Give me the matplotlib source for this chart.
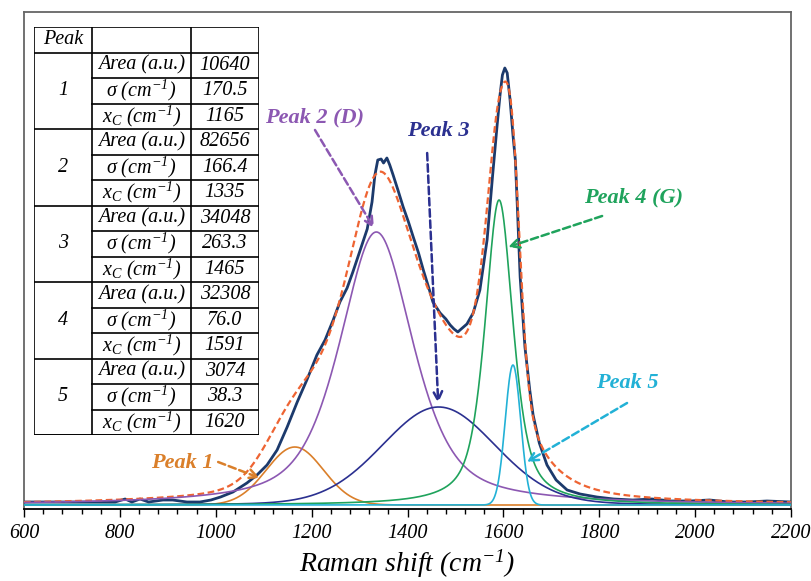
import numpy as np
import matplotlib
matplotlib.use("Agg")
import matplotlib.pyplot as plt
from matplotlib.ticker import MultipleLocator

plt.rcParams['font.family'] = 'Liberation Serif'
plt.rcParams['font.style'] = 'italic'
plt.rcParams['mathtext.fontset'] = 'custom'
plt.rcParams['mathtext.rm'] = 'Liberation Serif:italic'
plt.rcParams['mathtext.it'] = 'Liberation Serif:italic'
plt.rcParams['mathtext.bf'] = 'Liberation Serif:bold:italic'

x_meas = [600, 640, 680, 720, 760, 790, 811, 825, 842, 860, 890, 910, 940, 967, 990,
          1010, 1036, 1065, 1086, 1107, 1128, 1149, 1170, 1190, 1211, 1228, 1245, 1259,
          1274, 1286, 1300, 1316, 1326, 1332, 1338, 1345, 1350, 1357, 1363, 1370, 1380,
          1391, 1402, 1412, 1423, 1433, 1447, 1453, 1468, 1480, 1489, 1497, 1505, 1512,
          1524, 1537, 1551, 1566, 1578, 1587, 1593, 1598, 1603, 1608, 1614, 1620, 1625,
          1629, 1635, 1645, 1655, 1662, 1675, 1691, 1710, 1733, 1760, 1795, 1830, 1870,
          1910, 1950, 1990, 2030, 2070, 2110, 2150, 2200]
y_meas = [3, 3, 3, 3, 3, 3, 6, 3, 6, 3, 5, 5, 3, 3, 5,
          8, 13, 22, 30, 40, 55, 78, 103, 125, 150, 165, 185, 203,
          217, 233, 253, 276, 303, 330, 345, 346, 342, 347, 340, 330, 315,
          298, 283, 268, 252, 235, 213, 203, 192, 186, 180, 176, 173, 176,
          181, 192, 215, 265, 332, 380, 410, 430, 437, 432, 405, 370, 345,
          300, 228, 158, 115, 90, 62, 40, 25, 15, 11, 8, 6, 5,
          6, 4, 4, 5, 3, 3, 4, 3]

# fitted peaks
peak_names = ['Peak 1', 'Peak 2 (D)', 'Peak 3', 'Peak 4 (G)', 'Peak 5']
peak_center = [1165, 1335, 1465, 1591, 1620]
peak_fwhm = [140, 182, 280, 70, 38]
peak_height = [58, 273, 98, 305, 140]
peak_eta = [0.0, 0.6, 0.1, 0.65, 0.0]
peak_colors = ['#DA7F2A', '#8C58B2', '#2B3090', '#1FA35C', '#22B1D6']

# table
tab_area = ['10640', '82656', '34048', '32308', '3074']
tab_sigma = ['170.5', '166.4', '263.3', '76.0', '38.3']
tab_xc = ['1165', '1335', '1465', '1591', '1620']

fig = plt.figure(figsize=(8.11, 5.81), dpi=100)
ax = fig.add_axes([24/811, 1-509/581, 767/811, 497/581])

x = np.linspace(600, 2200, 1601)
comps = []
for c, w, h, eta in zip(peak_center, peak_fwhm, peak_height, peak_eta):
    g = np.exp(-4*np.log(2)*((x-c)/w)**2)
    l = 1/(1+((x-c)/(w/2))**2)
    comps.append(h*(eta*l + (1-eta)*g))
fit = np.sum(comps, axis=0)

ax.plot(x_meas, y_meas, color='#1C3A6C', lw=2.0, zorder=3)
ax.plot(x, fit, color='#EE6433', lw=1.6, ls=(0, (3, 1.6)), zorder=4)
for yc, col in zip(comps, peak_colors):
    ax.plot(x, yc, color=col, lw=1.2, zorder=5)

ax.set_xlim(600, 2200)
ax.set_ylim(-4, 493)
ax.set_yticks([])
ax.xaxis.set_major_locator(MultipleLocator(200))
ax.xaxis.set_minor_locator(MultipleLocator(40))
ax.tick_params(axis='x', which='major', direction='out', length=6, width=1, labelsize=14.5, pad=5)
ax.tick_params(axis='x', which='minor', direction='out', length=3.5, width=1)
for s in ['left', 'top', 'right']:
    ax.spines[s].set_color('#666666')
    ax.spines[s].set_linewidth(1.3)
ax.spines['bottom'].set_color('black')
ax.spines['bottom'].set_linewidth(1.3)
ax.set_xlabel('Raman shift (cm$^{-1}$)', fontsize=20, labelpad=3)

# annotations
lab_xy = [(930, 42), (1207, 388), (1464, 374), (1872, 308), (1858, 122)]
arr_from = [(1005, 43), (1207, 375), (1441, 352), (1806, 289), (1858, 102)]
arr_to = [(1092, 27), (1330, 277), (1464, 102), (1610, 258), (1649, 43)]
for name, col, lxy, a0, a1 in zip(peak_names, peak_colors, lab_xy, arr_from, arr_to):
    ax.text(lxy[0], lxy[1], name, color=col, fontsize=16, fontweight='bold',
            ha='center', va='center', zorder=6)
    ax.annotate('', xy=a1, xytext=a0,
                arrowprops=dict(arrowstyle='->', color=col, lw=1.8, ls=(0, (3, 1.5)),
                                mutation_scale=16, shrinkA=0, shrinkB=0), zorder=6)

# table inset
tax = fig.add_axes([34/811, 1-435/581, 225/811, 408/581])
tax.set_xlim(0, 225)
tax.set_ylim(408, 0)
tax.axis('off')
rh = 408/16
c1, c2 = 58, 157
kw = dict(color='black', lw=1.2)
tax.plot([0, 225, 225, 0, 0], [0, 0, 408, 408, 0], **kw)
tax.plot([c1, c1], [0, 408], **kw)
tax.plot([c2, c2], [0, 408], **kw)
tax.plot([0, 225], [rh, rh], **kw)
fs = 14.5
tax.text(c1/2, rh/2, 'Peak', ha='center', va='center', fontsize=fs)
row_lab = ['Area (a.u.)', 'σ (cm$^{-1}$)', '$x_C$ (cm$^{-1}$)']
for i in range(5):
    top = rh*(1+3*i)
    tax.plot([0, 225], [top+3*rh, top+3*rh], **kw)
    tax.plot([c1, 225], [top+rh, top+rh], **kw)
    tax.plot([c1, 225], [top+2*rh, top+2*rh], **kw)
    tax.text(c1/2, top+1.5*rh, str(i+1), ha='center', va='center', fontsize=fs)
    vals = [tab_area[i], tab_sigma[i], tab_xc[i]]
    for j in range(3):
        tax.text((c1+c2)/2, top+(j+0.5)*rh, row_lab[j], ha='center', va='center', fontsize=fs)
        tax.text((c2+225)/2, top+(j+0.5)*rh, vals[j], ha='center', va='center', fontsize=fs)

fig.savefig('out.png', dpi=100)
